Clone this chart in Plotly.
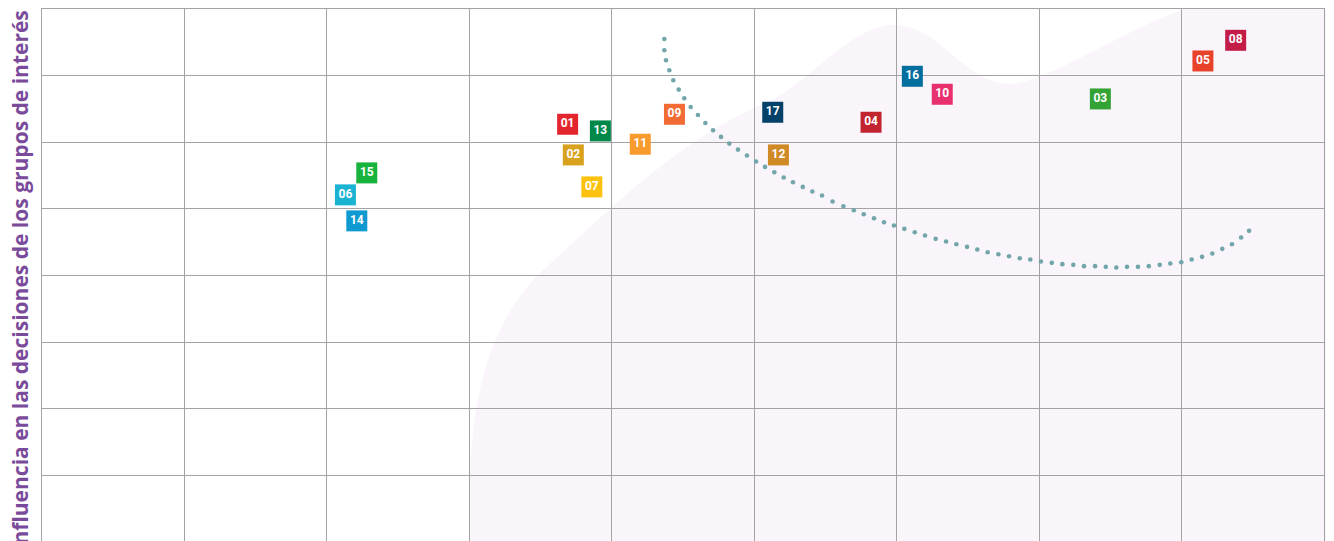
import plotly.graph_objects as go

# --- Data (axis units: x 0-9 columns, y 0-8 rows) ---
ods_labels = ["01", "02", "03", "04", "05", "06", "07", "08", "09",
              "10", "11", "12", "13", "14", "15", "16", "17"]
ods_x = [3.69, 3.73, 7.43, 5.82, 8.15, 2.13, 3.86, 8.38, 4.44,
         6.32, 4.20, 5.17, 3.92, 2.21, 2.28, 6.11, 5.13]
ods_y = [6.27, 5.81, 6.65, 6.30, 7.22, 5.21, 5.33, 7.53, 6.42,
         6.72, 5.97, 5.81, 6.17, 4.82, 5.54, 6.99, 6.45]
ods_colors = ["#E3252E", "#D8A11E", "#33A336", "#C1232F", "#E8432A", "#1AB4D2",
              "#FDC20F", "#C21C47", "#F26B35", "#E9306F", "#F99A2C", "#D08A25",
              "#00874A", "#0E9AD0", "#17B33D", "#026E9E", "#04426A"]

curve_x = [4.369, 4.369, 4.381, 4.404, 4.432, 4.470, 4.509, 4.554, 4.605, 4.657,
           4.711, 4.767, 4.825, 4.886, 4.949, 5.013, 5.076, 5.141, 5.207, 5.272,
           5.341, 5.408, 5.476, 5.550, 5.626, 5.699, 5.769, 5.841, 5.911, 5.981,
           6.054, 6.127, 6.199, 6.274, 6.347, 6.419, 6.494, 6.566, 6.639, 6.714,
           6.789, 6.864, 6.938, 7.013, 7.089, 7.163, 7.240, 7.315, 7.393, 7.468,
           7.542, 7.617, 7.694, 7.770, 7.847, 7.921, 7.998, 8.071, 8.144, 8.216,
           8.286, 8.354, 8.418, 8.474]
curve_y = [7.55, 7.38, 7.23, 7.08, 6.93, 6.79, 6.66, 6.53, 6.41, 6.29,
           6.18, 6.08, 5.98, 5.89, 5.80, 5.71, 5.63, 5.55, 5.47, 5.40,
           5.33, 5.26, 5.20, 5.11, 5.04, 4.98, 4.92, 4.86, 4.80, 4.75,
           4.70, 4.65, 4.60, 4.55, 4.51, 4.47, 4.43, 4.39, 4.35, 4.32,
           4.29, 4.26, 4.24, 4.21, 4.19, 4.17, 4.16, 4.14, 4.14, 4.13,
           4.12, 4.13, 4.13, 4.14, 4.16, 4.18, 4.20, 4.24, 4.28, 4.33,
           4.40, 4.47, 4.57, 4.67]

y_title = "Influencia en las decisiones de los grupos de interés"

fig = go.Figure()

fig.add_trace(go.Scatter(
    x=curve_x, y=curve_y, mode="markers",
    marker=dict(size=4.6, color="#72A6AA", line=dict(width=0)),
    hoverinfo="skip", showlegend=False,
))

fig.add_trace(go.Scatter(
    x=ods_x, y=ods_y, mode="markers+text",
    text=[f"<b>{t}</b>" for t in ods_labels],
    textposition="middle center",
    textfont=dict(family="Roboto", size=12, color="white"),
    marker=dict(symbol="square", size=21, color=ods_colors, line=dict(width=0)),
    showlegend=False,
))

# faint decorative background
fig.add_shape(
    type="path", xref="paper", yref="paper", layer="below",
    path=("M 0.334 0 C 0.330 0.25, 0.345 0.42, 0.40 0.53 "
          "C 0.45 0.64, 0.50 0.76, 0.57 0.83 "
          "C 0.60 0.87, 0.63 0.96, 0.66 0.97 "
          "C 0.70 0.98, 0.72 0.85, 0.76 0.86 "
          "C 0.80 0.88, 0.86 0.99, 0.92 1.02 "
          "L 1.02 1.02 L 1.02 0 Z"),
    fillcolor="rgba(240,232,246,0.42)", line=dict(width=0),
)

fig.add_annotation(
    text=f"<b>{y_title}</b>", textangle=-90,
    xref="paper", yref="paper", x=-0.0164, y=1.0019,
    xanchor="center", yanchor="top", showarrow=False,
    font=dict(family="Open Sans", size=21, color="#7A4B9A"),
)

grid = "#A3A3A3"
fig.update_xaxes(range=[0, 9], dtick=1, tick0=0, showticklabels=False, ticks="",
                 showgrid=True, gridcolor=grid, gridwidth=1.3, zeroline=False,
                 showline=True, linecolor=grid, linewidth=1.3, mirror=True, fixedrange=True)
fig.update_yaxes(range=[0, 8], dtick=1, tick0=0, showticklabels=False, ticks="",
                 showgrid=True, gridcolor=grid, gridwidth=1.3, zeroline=False,
                 showline=True, linecolor=grid, linewidth=1.3, mirror=True, fixedrange=True)

fig.update_layout(
    width=1334, height=541,
    margin=dict(l=34, r=18, t=1, b=7, autoexpand=False),
    paper_bgcolor="white", plot_bgcolor="rgba(0,0,0,0)",
)

fig.write_html("out.html")
